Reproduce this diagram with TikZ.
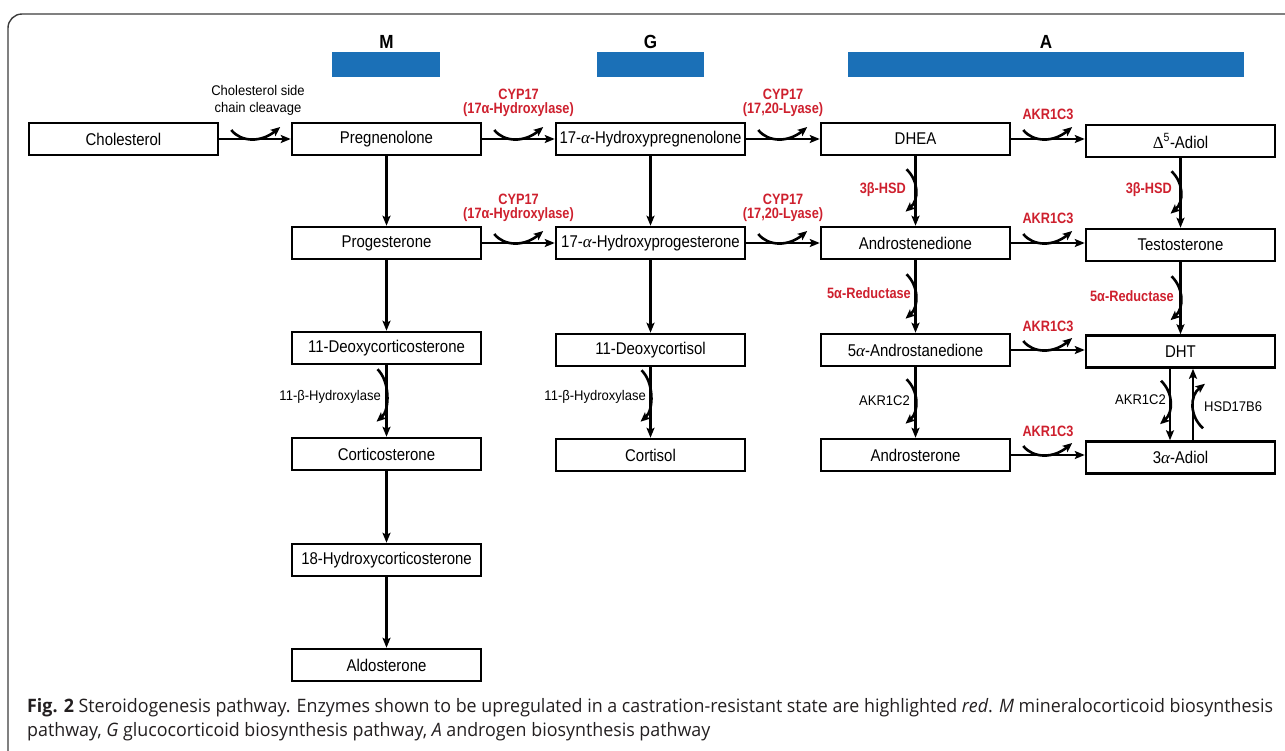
\documentclass[tikz,border=0pt]{standalone}
\usepackage{fontspec}
\usepackage{graphicx}
\setmainfont{Liberation Sans}
\newfontfamily\boxfont[FakeStretch=0.88]{Liberation Sans}
\newfontfamily\hdrfont[FakeStretch=0.9]{Liberation Sans}
\newfontfamily\redfont[FakeStretch=0.85]{Liberation Sans}
\newfontfamily\labfont[FakeStretch=0.93]{Liberation Sans}
\newfontfamily\grk{Liberation Serif}
\newfontfamily\capfont{Open Sans}
\usetikzlibrary{arrows.meta,calc}
\definecolor{barblue}{RGB}{27,112,183}
\definecolor{enzred}{RGB}{206,32,46}
\definecolor{capgray}{RGB}{35,31,32}
\definecolor{framegray}{RGB}{60,60,60}
\newcommand\ga{{\grk\itshape α}}
\newcommand\hcurve[1]{\draw[enz] ($(#1.east)+(12,-9)$) .. controls ($(#1.east)+(22,3.5)$) and ($(#1.east)+(42,3.5)$) .. ($(#1.east)+(61,-12)$);}
\newcommand\vcurve[5]{\draw[enz] ($(#1.south)+(#3-9,#4)$) .. controls ($(#1.south)+(#3+3.5,#4+12)$) and ($(#2.north)+(#3+3.5,#5-12)$) .. ($(#2.north)+(#3-10,#5)$);}
\newlength\capw
\newcommand\capone{\textbf{Fig. 2} Steroidogenesis pathway. Enzymes shown to be upregulated in a castration-resistant state are highlighted \textit{red}. \textit{M} mineralocorticoid biosynthesis}
\newcommand\captwo{pathway, \textit{G} glucocorticoid biosynthesis pathway, \textit{A} androgen biosynthesis pathway}
\begin{document}
\settowidth\capw{\capfont\fontsize{18.5}{22}\selectfont\capone}%
\pgfmathsetmacro\capsx{1246pt/\capw}%
\begin{tikzpicture}[x=1pt,y=-1pt,
  box/.style={draw, line width=2.5pt, minimum width=189pt, minimum height=32pt, inner sep=0pt,
    font=\boxfont\fontsize{17}{19}\selectfont},
  conn/.style={line width=2.2pt, -{Stealth[length=10pt,width=8pt,inset=2pt]}},
  enz/.style={line width=2.6pt, -{Stealth[length=9.5pt,width=8pt,inset=2pt]}},
  redlab/.style={text=enzred, font=\redfont\bfseries\fontsize{15}{14.5}\selectfont, align=center, inner sep=0pt},
  blklab/.style={font=\labfont\fontsize{14}{17}\selectfont, align=center, inner sep=0pt},
  hdr/.style={font=\hdrfont\bfseries\fontsize{19}{20}\selectfont, inner sep=0pt},
  bar/.style={fill=barblue, minimum height=25pt, inner sep=0pt},
  captext/.style={font=\capfont\fontsize{18.5}{22}\selectfont, text=capgray, inner sep=0pt, anchor=base west}]
\useasboundingbox (0,0) rectangle (1285,750);
\begin{scope}
\clip (0,0) rectangle (1285,750);
\draw[framegray, line width=1.4pt, rounded corners=14pt] (8,14) rectangle (1310,780);
\end{scope}

% headers
\node[hdr] (hM) at (386.5,42) {M};
\node[hdr] (hG) at (650.5,42) {G};
\node[hdr] (hA) at (1046,42) {A};
\node[bar, minimum width=108pt] (bM) at (386,64.5) {};
\node[bar, minimum width=107pt] (bG) at (650.5,64.5) {};
\node[bar, minimum width=396pt] (bA) at (1046,64.5) {};

% boxes
\node[box] (chol) at (123.5,139) {Cholesterol};
\node[box] (preg) at (386.5,139) {Pregnenolone};
\node[box] (ohpreg) at (650.5,139) {17-\ga-Hydroxypregnenolone};
\node[box] (dhea) at (915.5,139) {DHEA};
\node[box] (adiolf) at (1180.5,141) {{\grk Δ}\textsuperscript{5}-Adiol};
\node[box] (prog) at (386.5,243) {Progesterone};
\node[box] (ohprog) at (650.5,243) {17-\ga-Hydroxyprogesterone};
\node[box] (andro) at (915.5,243) {Androstenedione};
\node[box] (testo) at (1180.5,245) {Testosterone};
\node[box] (doc) at (386.5,348) {11-Deoxycorticosterone};
\node[box] (deoxc) at (650.5,350) {11-Deoxycortisol};
\node[box] (aand) at (915.5,350) {5\ga-Androstanedione};
\node[box] (dht) at (1180.5,351.5) {DHT};
\node[box] (cort) at (386.5,454) {Corticosterone};
\node[box] (cortisol) at (650.5,455) {Cortisol};
\node[box] (andros) at (915.5,455) {Androsterone};
\node[box] (adiolt) at (1180.5,457.5) {3\ga-Adiol};
\node[box] (ohcort) at (386.5,560) {18-Hydroxycorticosterone};
\node[box] (aldo) at (386.5,665) {Aldosterone};

% horizontal connectors
\draw[conn] (chol) -- (preg);
\draw[conn] (preg) -- (ohpreg);
\draw[conn] (ohpreg) -- (dhea);
\draw[conn] (dhea.east) -- (dhea.east -| adiolf.west);
\draw[conn] (prog) -- (ohprog);
\draw[conn] (ohprog) -- (andro);
\draw[conn] (andro.east) -- (andro.east -| testo.west);
\draw[conn] (aand.east) -- (aand.east -| dht.west);
\draw[conn] (andros.east) -- (andros.east -| adiolt.west);

% vertical connectors
\draw[conn] (preg) -- (prog);
\draw[conn] (prog) -- (doc);
\draw[conn] (doc) -- (cort);
\draw[conn] (cort) -- (ohcort);
\draw[conn] (ohcort) -- (aldo);
\draw[conn] (ohpreg) -- (ohprog);
\draw[conn] (ohprog) -- (deoxc);
\draw[conn] (deoxc) -- (cortisol);
\draw[conn] (dhea) -- (andro);
\draw[conn] (andro) -- (aand);
\draw[conn] (aand) -- (andros);
\draw[conn] (adiolf) -- (testo);
\draw[conn] (testo) -- (dht);
\draw[conn] ($(dht.south)+(-10.5,0)$) -- ($(adiolt.north)+(-10.5,0)$);
\draw[conn] ($(adiolt.north)+(12.5,0)$) -- ($(dht.south)+(12.5,0)$);

% horizontal enzyme curves
\hcurve{chol}
\hcurve{preg}
\hcurve{ohpreg}
\hcurve{dhea}
\hcurve{prog}
\hcurve{ohprog}
\hcurve{andro}
\hcurve{aand}
\hcurve{andros}

% vertical enzyme curves
\vcurve{doc}{cort}{0}{4}{-15}
\vcurve{deoxc}{cortisol}{0}{3}{-16}
\vcurve{dhea}{andro}{0}{13}{-14}
\vcurve{andro}{aand}{0}{14}{-14}
\vcurve{aand}{andros}{0}{12}{-14}
\vcurve{adiolf}{testo}{0}{13}{-14}
\vcurve{testo}{dht}{0}{14}{-14}
\vcurve{dht}{adiolt}{-10.5}{12}{-16}
\draw[enz] ($(adiolt.north)+(22.5,-12)$) .. controls ($(adiolt.north)+(9,-24)$) and ($(dht.south)+(9,27)$) .. ($(dht.south)+(24.5,15)$);

% enzyme labels
\node[blklab] (lscc) at (258,100) {Cholesterol side\\chain cleavage};
\node[redlab] (l1a) at (518.5,103) {CYP17\\(17α-Hydroxylase)};
\node[redlab] (l1b) at (783,103) {CYP17\\(17,20-Lyase)};
\node[redlab] (l1c) at (1048,114) {AKR1C3};
\node[redlab] (l2a) at (518.5,208) {CYP17\\(17α-Hydroxylase)};
\node[redlab] (l2b) at (783,208) {CYP17\\(17,20-Lyase)};
\node[redlab] (l2c) at (1048,218) {AKR1C3};
\node[redlab] (l3c) at (1048,326) {AKR1C3};
\node[redlab] (l4c) at (1048,431) {AKR1C3};
\node[redlab, anchor=east] (lhsd1) at (906,190) {3β-HSD};
\node[redlab, anchor=east] (lhsd2) at (1172,190) {3β-HSD};
\node[redlab, anchor=east] (lred1) at (911,293) {5α-Reductase};
\node[redlab, anchor=east] (lred2) at (1174,296) {5α-Reductase};
\node[blklab, anchor=east] (lob1) at (381,397) {11-β-Hydroxylase};
\node[blklab, anchor=east] (lob2) at (646,397) {11-β-Hydroxylase};
\node[blklab, anchor=east] (lakc1) at (910,401) {AKR1C2};
\node[blklab, anchor=east] (lakc2) at (1166,400) {AKR1C2};
\node[blklab, anchor=west] (lhsd) at (1204,407) {HSD17B6};

% caption
\node[captext] (cap1) at (27,712) {\scalebox{\capsx}[1]{\capone}};
\node[captext] (cap2) at (27,736) {\scalebox{\capsx}[1]{\captwo}};
\end{tikzpicture}
\end{document}
